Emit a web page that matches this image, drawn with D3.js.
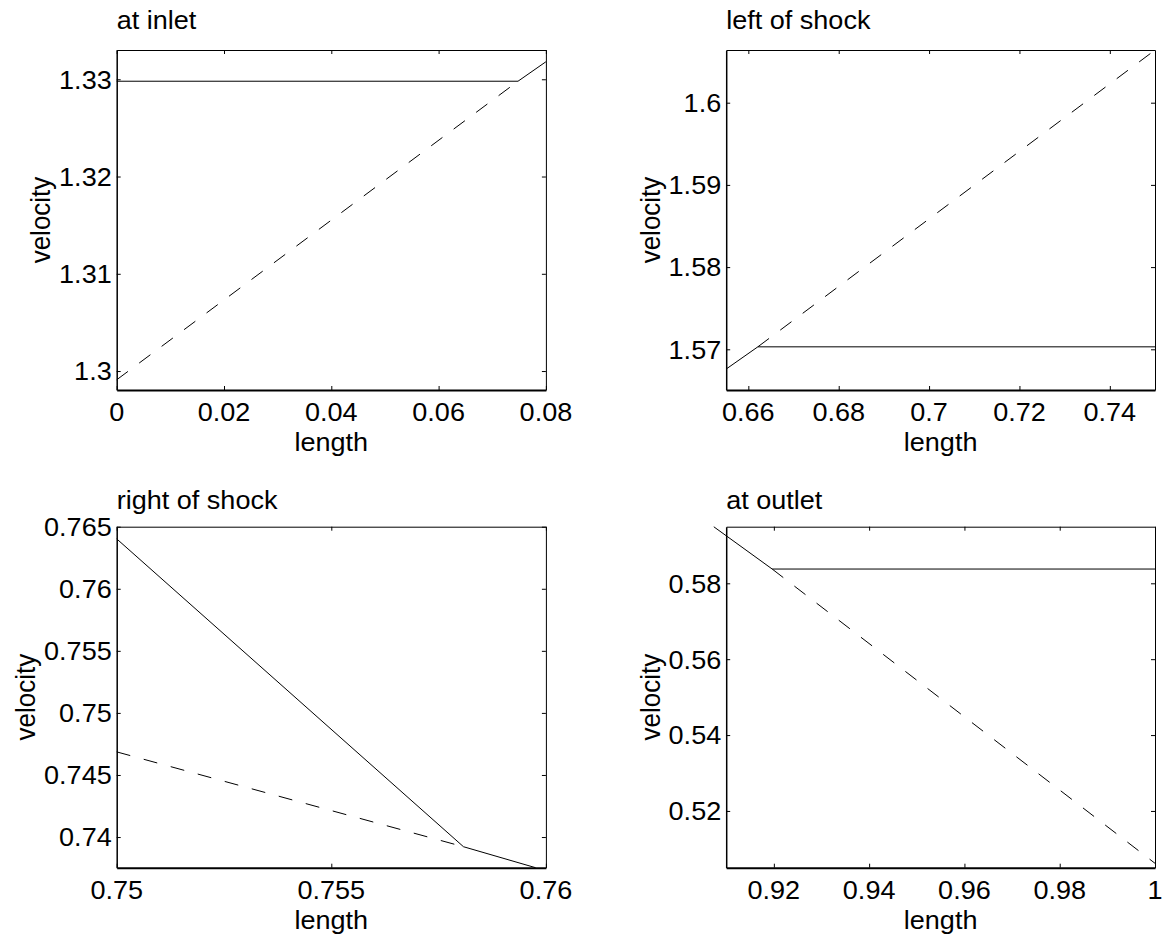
<!DOCTYPE html>
<html><head><meta charset="utf-8">
<script src="https://cdn.jsdelivr.net/npm/d3@7"></script>
<style>
body{margin:0;background:#fff}
text{font-family:"Liberation Sans",Arial,Helvetica,sans-serif;font-size:26px;fill:#000}
</style>
</head><body>
<svg id="chart" width="1165" height="941"></svg>
<script>
// ---------- data ----------
const titles = ["at inlet", "left of shock", "right of shock", "at outlet"];
const xLabel = "length";
const yLabel = "velocity";

// panel 1: at inlet
const inletXDomain = [0, 0.08];
const inletYDomain = [1.29805, 1.33301];
const inletXTicks = [0, 0.02, 0.04, 0.06, 0.08];
const inletYTicks = [1.3, 1.31, 1.32, 1.33];
const inletSolidX = [0, 0.0748, 0.08];
const inletSolidY = [1.3298, 1.3298, 1.3318];
const inletDashX = [0, 0.0748];
const inletDashY = [1.2991, 1.3298];

// panel 2: left of shock
const leftXDomain = [0.6551, 0.75];
const leftYDomain = [1.56505, 1.60641];
const leftXTicks = [0.66, 0.68, 0.7, 0.72, 0.74];
const leftYTicks = [1.57, 1.58, 1.59, 1.6];
const leftSolidX = [0.6551, 0.6621, 0.75];
const leftSolidY = [1.5676, 1.5703, 1.5703];
const leftDashX = [0.6621, 0.75];
const leftDashY = [1.5703, 1.6064];

// panel 3: right of shock
const rightXDomain = [0.75, 0.76];
const rightYDomain = [0.73753, 0.765];
const rightXTicks = [0.75, 0.755, 0.76];
const rightYTicks = [0.74, 0.745, 0.75, 0.755, 0.76, 0.765];
const rightSolidX = [0.75, 0.75808, 0.75976];
const rightSolidY = [0.76402, 0.73922, 0.73753];
const rightDashX = [0.75, 0.75808];
const rightDashY = [0.74686, 0.73922];

// panel 4: at outlet
const outletXDomain = [0.91, 1.0];
const outletYDomain = [0.50504, 0.59492];
const outletXTicks = [0.92, 0.94, 0.96, 0.98, 1];
const outletYTicks = [0.52, 0.54, 0.56, 0.58];
const outletSolidX = [0.9074, 0.91965, 1.0];
const outletSolidY = [0.5949, 0.58376, 0.58376];
const outletDashX = [0.91965, 1.0];
const outletDashY = [0.58376, 0.5062];

// ---------- layout (positions only) ----------
const layout = [
  {x0: 116.7, x1: 545.9, y0: 50, y1: 390, titleY: 29},
  {x0: 726.2, x1: 1155, y0: 50, y1: 390, titleY: 29},
  {x0: 116.7, x1: 545.9, y0: 526.7, y1: 867.7, titleY: 509},
  {x0: 726.2, x1: 1155, y0: 526.7, y1: 867.7, titleY: 509}
];
const SX = 1.04; // slight horizontal text stretch of the reference

const panels = [
  {xd: inletXDomain, yd: inletYDomain, xt: inletXTicks, yt: inletYTicks, sx: inletSolidX, sy: inletSolidY, dx: inletDashX, dy: inletDashY},
  {xd: leftXDomain, yd: leftYDomain, xt: leftXTicks, yt: leftYTicks, sx: leftSolidX, sy: leftSolidY, dx: leftDashX, dy: leftDashY},
  {xd: rightXDomain, yd: rightYDomain, xt: rightXTicks, yt: rightYTicks, sx: rightSolidX, sy: rightSolidY, dx: rightDashX, dy: rightDashY},
  {xd: outletXDomain, yd: outletYDomain, xt: outletXTicks, yt: outletYTicks, sx: outletSolidX, sy: outletSolidY, dx: outletDashX, dy: outletDashY}
];

const svg = d3.select("#chart");
const fmt = v => String(+v.toFixed(4));

function txt(parent, x, y, s, anchor, rot, dy) {
  return parent.append("text")
    .attr("transform", `translate(${x},${y}) scale(${SX},1)` + (rot ? " rotate(-90)" : ""))
    .attr("text-anchor", anchor)
    .attr("dy", dy || null)
    .text(s);
}

panels.forEach((p, i) => {
  const L = layout[i];
  const g = svg.append("g");
  const x = d3.scaleLinear().domain(p.xd).range([L.x0, L.x1]);
  const y = d3.scaleLinear().domain(p.yd).range([L.y1, L.y0]);

  // lines
  const line = d3.line().x(d => x(d[0])).y(d => y(d[1]));
  g.append("path").datum(d3.zip(p.dx, p.dy)).attr("d", line)
    .attr("fill", "none").attr("stroke", "#000").attr("stroke-width", 1)
    .attr("stroke-dasharray", "14,14");
  g.append("path").datum(d3.zip(p.sx, p.sy)).attr("d", line)
    .attr("fill", "none").attr("stroke", "#000").attr("stroke-width", 1);

  // axes with inward ticks on all four sides
  const ax = (sel, w) => sel.call(s => s.selectAll("path.domain").attr("stroke-width", w))
                            .call(s => s.selectAll(".tick line").attr("stroke-width", 1))
                            .call(s => s.selectAll(".tick text").remove());
  g.append("g").attr("transform", `translate(0,${L.y1})`)
    .call(d3.axisBottom(x).tickValues(p.xt).tickSizeInner(-4).tickSizeOuter(0)).call(ax, 2);
  g.append("g").attr("transform", `translate(0,${L.y0})`)
    .call(d3.axisTop(x).tickValues(p.xt).tickSizeInner(-4).tickSizeOuter(0)).call(ax, 1);
  g.append("g").attr("transform", `translate(${L.x0},0)`)
    .call(d3.axisLeft(y).tickValues(p.yt).tickSizeInner(-4).tickSizeOuter(0)).call(ax, 1.5);
  g.append("g").attr("transform", `translate(${L.x1},0)`)
    .call(d3.axisRight(y).tickValues(p.yt).tickSizeInner(-4).tickSizeOuter(0)).call(ax, 1);

  // tick labels
  p.xt.forEach(v => txt(g, x(v), L.y1 + 31, fmt(v), "middle"));
  let maxW = 0;
  p.yt.forEach(v => {
    const t = txt(g, L.x0 - 5, y(v), fmt(v), "end", false, "0.36em");
    maxW = Math.max(maxW, t.node().getComputedTextLength() * SX);
  });

  // axis labels and title
  txt(g, (L.x0 + L.x1) / 2, L.y1 + 61, xLabel, "middle");
  txt(g, L.x0 - 5 - maxW - 9, (L.y0 + L.y1) / 2, yLabel, "middle", true);
  txt(g, L.x0, L.titleY, titles[i], "start");
});
</script>
</body></html>
